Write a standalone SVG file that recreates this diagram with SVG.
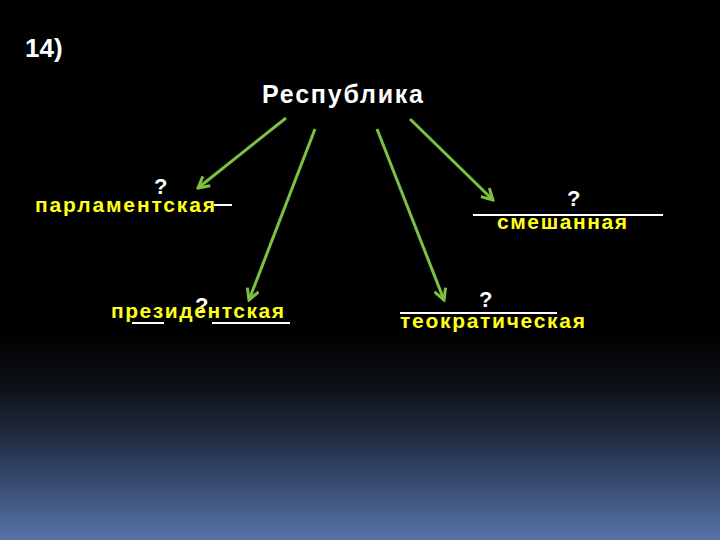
<svg xmlns="http://www.w3.org/2000/svg" width="720" height="540" viewBox="0 0 720 540">
<defs>
<linearGradient id="bg" x1="0" y1="0" x2="0" y2="1">
<stop offset="0" stop-color="#000000"/>
<stop offset="0.62" stop-color="#000000"/>
<stop offset="0.72" stop-color="#0e1119"/>
<stop offset="0.82" stop-color="#242f47"/>
<stop offset="0.92" stop-color="#3f5580"/>
<stop offset="1" stop-color="#5673a8"/>
</linearGradient>
<marker id="ah" viewBox="0 0 14 14" refX="12" refY="7" markerWidth="14" markerHeight="14" markerUnits="userSpaceOnUse" orient="auto">
<path d="M1,1 L12,7 L1,13" fill="none" stroke="#7cc142" stroke-width="3" stroke-linejoin="miter"/>
</marker>
<style>
.t{font-family:"Liberation Sans",Arial,sans-serif;font-weight:bold;}
.w{fill:#ffffff;}
.y{fill:#ffff1a;}
.ul{stroke:#ffffff;stroke-width:2;}
.c{stroke:#7cc142;stroke-width:3;fill:none;marker-end:url(#ah);}
</style>
</defs>
<rect x="0" y="0" width="720" height="540" fill="url(#bg)"/>
<text class="t w" x="25" y="57" font-size="26">14)</text>
<g id="root">
<text class="t w" x="262" y="103" font-size="25" textLength="161" lengthAdjust="spacing">Республика</text>
</g>
<g id="connectors">
<line class="c" x1="286" y1="118" x2="198" y2="188"/>
<line class="c" x1="315" y1="129" x2="249" y2="300"/>
<line class="c" x1="377" y1="129" x2="444" y2="300"/>
<line class="c" x1="410" y1="119" x2="493" y2="200"/>
</g>
<g id="parl">
<line class="ul" x1="214" y1="205" x2="232" y2="205"/>
<text class="t y" x="35" y="212" font-size="21" textLength="180" lengthAdjust="spacing">парламентская</text>
<text class="t w" x="154" y="194" font-size="22">?</text>
</g>
<g id="prez">
<line class="ul" x1="132" y1="323" x2="164" y2="323"/>
<line class="ul" x1="212" y1="323" x2="290" y2="323"/>
<text class="t w" x="195" y="313" font-size="22">?</text>
<text class="t y" x="111" y="318" font-size="21" textLength="173" lengthAdjust="spacing">президентская</text>
</g>
<g id="mix">
<line class="ul" x1="473" y1="215" x2="663" y2="215"/>
<text class="t y" x="497" y="229" font-size="21" textLength="130" lengthAdjust="spacing">смешанная</text>
<text class="t w" x="567" y="206" font-size="22">?</text>
</g>
<g id="theo">
<line class="ul" x1="400" y1="313" x2="557" y2="313"/>
<text class="t y" x="400" y="328" font-size="21" textLength="185" lengthAdjust="spacing">теократическая</text>
<text class="t w" x="479" y="307" font-size="22">?</text>
</g>
</svg>
